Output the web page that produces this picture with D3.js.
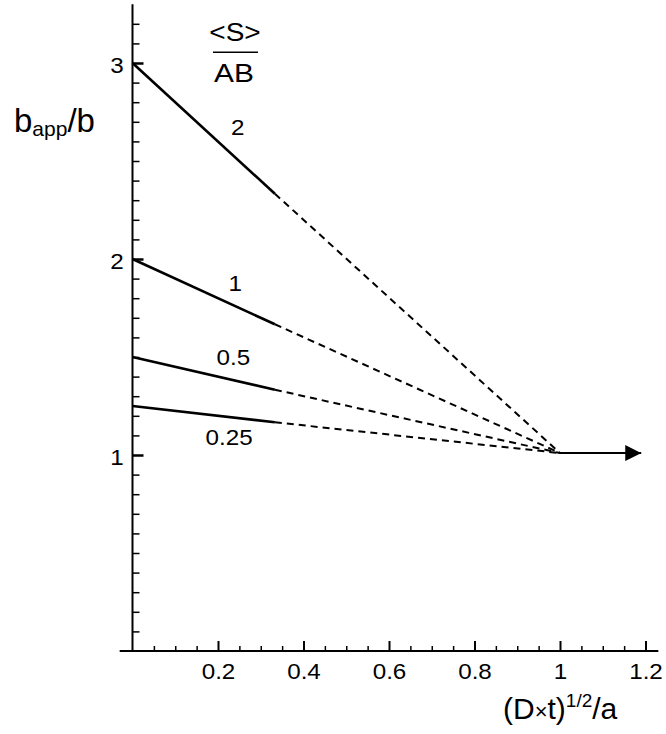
<!DOCTYPE html>
<html>
<head>
<meta charset="utf-8">
<script src="https://cdn.jsdelivr.net/npm/d3@7"></script>
<style>
  html, body { margin: 0; padding: 0; background: #fff; }
  svg { display: block; font-family: "Liberation Sans", Arial, Helvetica, sans-serif; }
</style>
</head>
<body>
<svg id="chart" width="666" height="734"></svg>
<script>
// ---- data ----
const seriesLabels = ["2", "1", "0.5", "0.25"];     // <S>/AB values
const startValues  = [3, 2, 1.5, 1.25];             // b_app/b at x = 0
const breakValues  = [2.333, 1.667, 1.333, 1.167];  // b_app/b where solid turns dashed
const breakX = 0.333;
const meetX = 1.0, meetY = 1.01;                     // convergence point
const arrowEndX = 1.19;
const xMajorTicks = [0.2, 0.4, 0.6, 0.8, 1, 1.2];
const xTickLabels = ["0.2", "0.4", "0.6", "0.8", "1", "1.2"];
const yMajorTicks = [1, 2, 3];
const yTickLabels = ["1", "2", "3"];

// ---- layout ----
const FONT = "Liberation Sans, Arial, sans-serif";
const svg = d3.select("#chart");
const x = d3.scaleLinear().domain([0, 1.2]).range([132.5, 645.5]);
const y = d3.scaleLinear().domain([0, 3]).range([651, 63]);

const xMinor = d3.range(1, 25).map(i => i * 0.05).filter(v => Math.abs(v * 5 - Math.round(v * 5)) > 1e-6);
const yMinor = d3.range(1, 33).map(i => i * 0.1).filter(v => Math.abs(v - Math.round(v)) > 1e-6);

// axis lines
svg.append("line").attr("x1", x(-0.03)).attr("x2", x(1.23)).attr("y1", y(0)).attr("y2", y(0))
  .attr("stroke", "#000").attr("stroke-width", 2);
svg.append("line").attr("x1", x(0)).attr("x2", x(0)).attr("y1", y(0)).attr("y2", y(3.3))
  .attr("stroke", "#000").attr("stroke-width", 2);

// x axis major
const xAxis = d3.axisBottom(x).tickValues(xMajorTicks)
  .tickFormat((d, i) => xTickLabels[i]).tickSizeInner(-10).tickSizeOuter(0).tickPadding(12);
const gx = svg.append("g").attr("transform", `translate(0,${y(0)})`).call(xAxis);
gx.select(".domain").remove();
gx.selectAll(".tick line").attr("stroke-width", 2);
gx.selectAll(".tick text").attr("font-size", 22).attr("font-family", FONT).attr("fill", "#000")
  .attr("transform", "scale(1.1,1)");

// x axis minor
const gxm = svg.append("g").attr("transform", `translate(0,${y(0)})`)
  .call(d3.axisBottom(x).tickValues(xMinor).tickFormat("").tickSizeInner(-5).tickSizeOuter(0));
gxm.select(".domain").remove();
gxm.selectAll(".tick line").attr("stroke-width", 1.5);

// y axis major
const yAxis = d3.axisLeft(y).tickValues(yMajorTicks)
  .tickFormat((d, i) => yTickLabels[i]).tickSizeInner(-11).tickSizeOuter(0).tickPadding(8);
const gy = svg.append("g").attr("transform", `translate(${x(0)},0)`).call(yAxis);
gy.select(".domain").remove();
gy.selectAll(".tick line").attr("stroke-width", 2.5);
gy.selectAll(".tick text").attr("font-size", 22).attr("dy", "0.42em").attr("font-family", FONT).attr("fill", "#000")
  .attr("transform", "scale(1.1,1)");

// y axis minor
const gym = svg.append("g").attr("transform", `translate(${x(0)},0)`)
  .call(d3.axisLeft(y).tickValues(yMinor).tickFormat("").tickSizeInner(-7).tickSizeOuter(0));
gym.select(".domain").remove();
gym.selectAll(".tick line").attr("stroke-width", 1.5);

// ---- lines ----
const line = d3.line().x(d => x(d[0])).y(d => y(d[1]));
seriesLabels.forEach((lab, i) => {
  svg.append("path").datum([[0, startValues[i]], [breakX, breakValues[i]]])
    .attr("d", line).attr("fill", "none").attr("stroke", "#000").attr("stroke-width", 2.6);
  svg.append("path").datum([[breakX, breakValues[i]], [meetX, meetY]])
    .attr("d", line).attr("fill", "none").attr("stroke", "#000").attr("stroke-width", 2)
    .attr("stroke-dasharray", "7,5");
});

// arrow
svg.append("defs").append("marker").attr("id", "arrow")
  .attr("viewBox", "0 0 16 16").attr("refX", 16).attr("refY", 8)
  .attr("markerWidth", 16).attr("markerHeight", 16).attr("markerUnits", "userSpaceOnUse")
  .attr("orient", "auto")
  .append("path").attr("d", "M0,0 L16,8 L0,16 Z").attr("fill", "#000");
svg.append("line").attr("x1", x(meetX)).attr("x2", x(arrowEndX)).attr("y1", y(meetY)).attr("y2", y(meetY))
  .attr("stroke", "#000").attr("stroke-width", 2).attr("marker-end", "url(#arrow)");

// series labels (placed near each line)
const labelPlaces = [[0.246, 2.675], [0.24, 1.876], [0.236, 1.502], [0.226, 1.093]];
seriesLabels.forEach((lab, i) => {
  const px = x(labelPlaces[i][0]), py = y(labelPlaces[i][1]);
  svg.append("text").attr("transform", `translate(${px},${py}) scale(1.1,1)`)
    .attr("text-anchor", "middle").attr("dy", "0.36em").attr("font-size", 22).text(lab);
});

// legend heading <S>/AB
svg.append("text").attr("transform", "translate(235,41) scale(1.12,1)").attr("text-anchor", "middle").attr("font-size", 25).text("<S>");
svg.append("line").attr("x1", 213).attr("x2", 258).attr("y1", 52.3).attr("y2", 52.3).attr("stroke", "#000").attr("stroke-width", 1.5);
svg.append("text").attr("transform", "translate(234,82) scale(1.15,1)").attr("text-anchor", "middle").attr("font-size", 26).text("AB");

// y title
const yt = svg.append("text").attr("x", 14).attr("y", 131.5).attr("font-size", 33);
yt.append("tspan").text("b");
yt.append("tspan").attr("font-size", 21).attr("dy", 4).text("app");
yt.append("tspan").attr("dy", -4).text("/b");

// x title
const xt = svg.append("text").attr("x", 503).attr("y", 719).attr("font-size", 30);
xt.append("tspan").text("(D");
xt.append("tspan").attr("font-size", 22).text("\u00d7");
xt.append("tspan").text("t)");
xt.append("tspan").attr("font-size", 19).attr("dy", -12).text("1/2");
xt.append("tspan").attr("dy", 12).text("/a");
</script>
</body>
</html>
